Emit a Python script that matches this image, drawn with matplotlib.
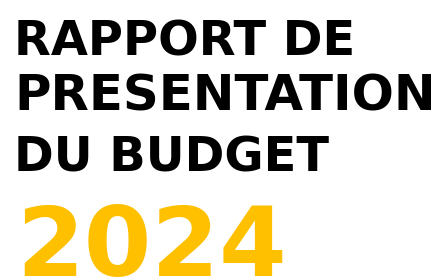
import matplotlib
matplotlib.use("Agg")
import matplotlib.pyplot as plt

title_lines = ["RAPPORT DE", "PRESENTATION", "DU BUDGET"]
year = "2024"

W, H = 437, 280
fig = plt.figure(figsize=(W / 100, H / 100), dpi=100)
fig.patch.set_facecolor("white")

baselines = [55, 110.5, 171]
sizes = [34.5, 35.8, 34.5]
for line, yb, fs in zip(title_lines, baselines, sizes):
    fig.text(14.5 / W, 1 - yb / H, line, fontsize=fs, fontweight="bold",
             color="black", family="DejaVu Sans", ha="left", va="baseline")

fig.text(16 / W, 1 - 276 / H, year, fontsize=70, fontweight="bold",
         color="#FFC000", family="DejaVu Sans", ha="left", va="baseline")

fig.savefig("out.png", dpi=100, facecolor="white")
